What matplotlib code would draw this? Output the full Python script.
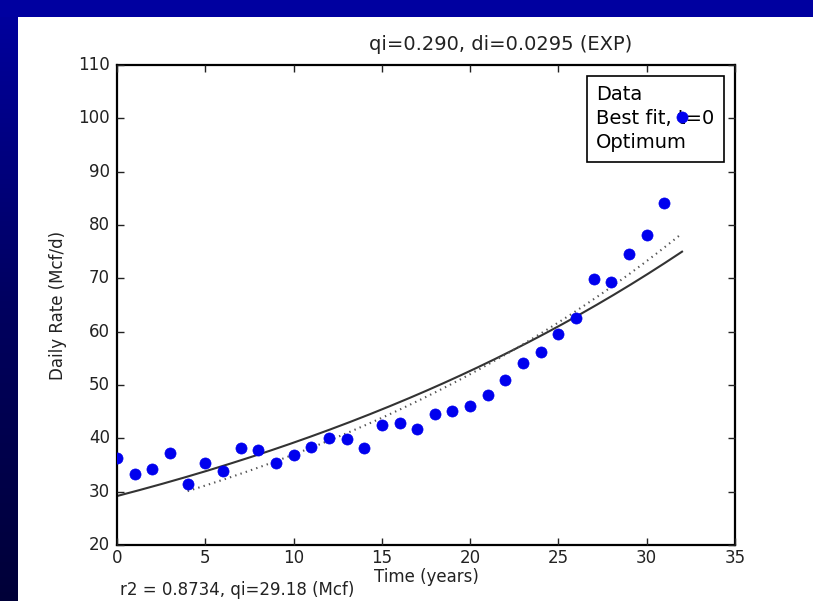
import numpy as np
import matplotlib

matplotlib.use("Agg")
import matplotlib.pyplot as plt

plt.style.use("classic")

# Yearly daily-rate observations
years = [0, 1, 2, 3, 4, 5, 6, 7, 8, 9, 10, 11, 12, 13, 14, 15, 16,
         17, 18, 19, 20, 21, 22, 23, 24, 25, 26, 27, 28, 29, 30, 31, 32]
rates = [36.3, 33.3, 34.3, 37.3, 31.4, 35.4, 33.9, 38.2, 37.8, 35.4, 36.9,
         38.4, 40.1, 39.9, 38.2, 42.5, 42.9, 41.7, 44.5, 45.1, 46.1, 48.1,
         50.9, 54.1, 56.1, 59.5, 62.5, 69.8, 69.4, 74.5, 78.1, 84.1, 100.3]

# Exponential fit parameters
fit_qi = 29.18
fit_di = 0.0295
fit_r2 = 0.8734
fit_t0, fit_t1 = 0, 32
title_qi = 0.290

# Optimum curve, starting at year 4
opt_q0 = 30.1
opt_di = 0.0342
opt_t0, opt_t1 = 4, 32

legend_labels = ["Data", "Best fit, t=0", "Optimum"]

fig = plt.figure(figsize=(8.13, 6.01), dpi=100)
fig.patch.set_facecolor("white")

# slide border: blue strip on top, darkening strip down the left side
bg = fig.add_axes([0, 0, 1, 1], zorder=-10)
bg.set_axis_off()
bg.set_xlim(0, 813)
bg.set_ylim(601, 0)
bg.add_patch(plt.Rectangle((0, 0), 813, 17, color="#0000a0", lw=0))
grad = np.linspace(0, 1, 256).reshape(-1, 1)
left_cmap = matplotlib.colors.LinearSegmentedColormap.from_list(
    "edge", ["#0000a0", "#000060", "#000038"])
bg.imshow(grad, cmap=left_cmap, extent=(0, 17, 601, 0), aspect="auto")

ax = fig.add_axes([117 / 813, 56 / 601, 618 / 813, 480 / 601])
ax.set_facecolor("white")
for sp in ax.spines.values():
    sp.set_linewidth(1.6)

t_fit = np.linspace(fit_t0, fit_t1, 200)
t_opt = np.linspace(opt_t0, opt_t1, 200)

pts, = ax.plot(years, rates, "o", color="#0000ee", mec="#0000ee",
               markersize=8, zorder=10, label=legend_labels[0])
fit_line, = ax.plot(t_fit, fit_qi * np.exp(fit_di * t_fit), "-",
                    color="#333333", lw=1.5, label=legend_labels[1])
opt_line, = ax.plot(t_opt, opt_q0 * np.exp(opt_di * (t_opt - opt_t0)), ":",
                    color="#555555", lw=1.5, label=legend_labels[2])

ax.set_xlim(0, 35)
ax.set_ylim(20, 110)
ax.set_xticks(np.arange(0, 36, 5))
ax.set_yticks(np.arange(20, 111, 10))
ax.tick_params(labelsize=12, colors="#222222", width=1, length=5)
ax.tick_params(axis="x", pad=3)
ax.tick_params(axis="y", pad=5)

ax.text(0.621, 1 + 20 / 480, "qi=%.3f, di=%.4f (EXP)" % (title_qi, fit_di),
        transform=ax.transAxes, ha="center", va="center",
        fontsize=14, color="#222222")
ax.set_xlabel("Time (years)", fontsize=12, color="#222222", labelpad=0.5)
ax.set_ylabel("Daily Rate (Mcf/d)", fontsize=12, color="#222222", labelpad=8)

leg = ax.legend(handlelength=0, handletextpad=0, fontsize=14, loc="upper right",
                borderaxespad=0.55, borderpad=0.5, labelspacing=0.25,
                fancybox=False)
for h in leg.legend_handles:
    h.set_visible(False)
leg.get_frame().set_linewidth(1.2)
leg.set_zorder(5)

fig.text(120 / 813, 11 / 601, "r2 = %.4f, qi=%.2f (Mcf)" % (fit_r2, fit_qi),
         fontsize=12, color="#222222", va="center")

fig.savefig("out.png", dpi=100, facecolor=fig.get_facecolor())
